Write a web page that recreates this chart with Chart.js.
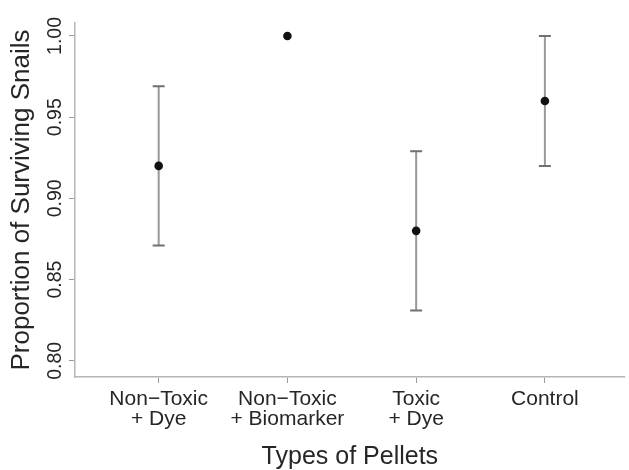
<!DOCTYPE html>
<html>
<head>
<meta charset="utf-8">
<script src="https://cdn.jsdelivr.net/npm/chart.js@4"></script>
<style>
  body { margin: 0; background: #fff; }
</style>
</head>
<body>
<canvas id="snailChart" width="629" height="470"></canvas>
<script>
// pellet types and survival proportions with their interval ends
const categories = [['Non\u2212Toxic', '+ Dye'], ['Non\u2212Toxic', '+ Biomarker'], ['Toxic', '+ Dye'], 'Control'];
const proportions = [0.92, 1.00, 0.88, 0.96];
const lowerBounds = [0.871, 1.00, 0.831, 0.92];
const upperBounds = [0.969, 1.00, 0.929, 1.00];
const yTicks = [0.80, 0.85, 0.90, 0.95, 1.00];

const FONT = 'Liberation Sans, Arial, Helvetica, sans-serif';
const textColor = '#262626';

// vertical error bars with caps
const errorBars = {
  id: 'errorBars',
  beforeDatasetsDraw(chart) {
    const { ctx, scales: { x, y } } = chart;
    ctx.save();
    proportions.forEach((p, i) => {
      if (lowerBounds[i] === upperBounds[i]) return;
      const px = x.getPixelForValue(i + 1);
      const yLo = y.getPixelForValue(lowerBounds[i]);
      const yHi = y.getPixelForValue(upperBounds[i]);
      ctx.strokeStyle = '#999';
      ctx.lineWidth = 2;
      ctx.beginPath();
      ctx.moveTo(px, yLo);
      ctx.lineTo(px, yHi);
      ctx.stroke();
      ctx.strokeStyle = '#707070';
      ctx.beginPath();
      ctx.moveTo(px - 6, yLo); ctx.lineTo(px + 6, yLo);
      ctx.moveTo(px - 6, yHi); ctx.lineTo(px + 6, yHi);
      ctx.stroke();
    });
    ctx.restore();
  }
};

// rotated y tick labels and y title (R style)
const yLabels = {
  id: 'yLabels',
  afterDraw(chart) {
    const { ctx, chartArea, scales: { y } } = chart;
    ctx.save();
    ctx.fillStyle = textColor;
    ctx.textAlign = 'center';
    ctx.textBaseline = 'middle';
    ctx.font = '19.5px ' + FONT;
    yTicks.forEach(v => {
      const py = y.getPixelForValue(v);
      ctx.save();
      ctx.translate(56, py);
      ctx.rotate(-Math.PI / 2);
      ctx.fillText(v.toFixed(2), 0, 0);
      ctx.restore();
    });
    ctx.font = '26px ' + FONT;
    ctx.translate(22, (chartArea.top + chartArea.bottom) / 2);
    ctx.rotate(-Math.PI / 2);
    ctx.fillText('Proportion of Surviving Snails', 0, 0);
    ctx.restore();
  }
};

new Chart(document.getElementById('snailChart'), {
  type: 'scatter',
  data: {
    datasets: [{
      data: proportions.map((p, i) => ({ x: i + 1, y: p })),
      pointRadius: 4.3,
      pointHoverRadius: 4.3,
      backgroundColor: '#111',
      borderWidth: 0
    }]
  },
  options: {
    responsive: false,
    animation: false,
    layout: { padding: { top: 23, right: 1, left: 0, bottom: 0 } },
    plugins: { legend: { display: false }, tooltip: { enabled: false } },
    scales: {
      x: {
        type: 'linear',
        min: 0.35,
        max: 4.62,
        afterBuildTicks: s => { s.ticks = categories.map((c, i) => ({ value: i + 1 })); },
        afterFit: s => { s.height = 93; },
        border: { color: '#b5b5b5', width: 1.5 },
        grid: { drawOnChartArea: false, tickLength: 6, color: '#9a9a9a', lineWidth: 1 },
        ticks: {
          autoSkip: false,
          maxRotation: 0,
          padding: 6,
          color: textColor,
          font: { family: FONT, size: 21, lineHeight: 0.95 },
          callback: (v) => categories[v - 1]
        },
        title: {
          display: true,
          text: 'Types of Pellets',
          color: textColor,
          font: { family: FONT, size: 25, lineHeight: 1 },
          padding: { top: 0, bottom: 0 }
        }
      },
      y: {
        min: 0.79,
        max: 1.008,
        afterBuildTicks: s => { s.ticks = yTicks.map(v => ({ value: v })); },
        afterFit: s => { s.width = 75; },
        border: { color: '#b5b5b5', width: 1.5 },
        grid: { drawOnChartArea: false, tickLength: 6, color: '#9a9a9a', lineWidth: 1 },
        ticks: { display: false }
      }
    }
  },
  plugins: [errorBars, yLabels]
});
</script>
</body>
</html>
